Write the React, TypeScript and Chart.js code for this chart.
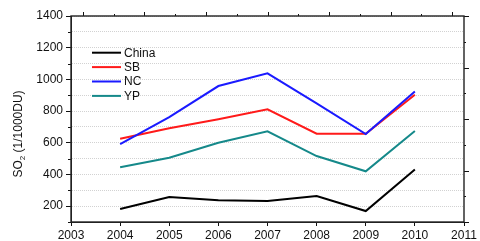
import React, { useEffect, useRef } from 'react';
import { Chart, registerables } from 'chart.js';

Chart.register(...registerables);

const years = [2004, 2005, 2006, 2007, 2008, 2009, 2010];
const chinaValues = [182, 257, 237, 232, 264, 169, 432];
const sbValues = [626, 691, 748, 811, 657, 657, 903];
const ncValues = [592, 762, 958, 1038, 848, 655, 924];
const ypValues = [445, 506, 600, 672, 516, 420, 674];
const seriesNames = ['China', 'SB', 'NC', 'YP'];
const seriesColors = ['#000000', '#ff1a1a', '#1a1aff', '#15898a'];
const xMin = 2003;
const xMax = 2011;
const yMin = 100;
const yMax = 1400;
const yLabelStep = 200;
const yMinorStep = 100;
const topTickCount = 13;
const rightTickCount = 9;

const FONT = "'Liberation Sans', Arial, sans-serif";

const extrasPlugin = {
  id: 'extras',
  afterDraw(chart: any) {
    const { ctx, chartArea, scales } = chart;
    const y = scales.y;
    const xTop = scales.xTop;
    const yRight = scales.yRight;
    ctx.save();
    ctx.strokeStyle = '#111';
    ctx.lineWidth = 1;
    // minor ticks on left axis
    for (let v = yMin; v <= yMax; v += yMinorStep) {
      if (v % yLabelStep === 0) continue;
      const py = Math.round(y.getPixelForValue(v)) + 0.5;
      ctx.beginPath();
      ctx.moveTo(chartArea.left - 3, py);
      ctx.lineTo(chartArea.left, py);
      ctx.stroke();
    }
    // top ticks (alternating major / minor)
    for (let k = 0; k < topTickCount; k++) {
      const px = Math.round(xTop.getPixelForValue(k)) + 0.5;
      const len = k % 2 === 0 ? 4 : 2;
      ctx.beginPath();
      ctx.moveTo(px, chartArea.top);
      ctx.lineTo(px, chartArea.top - len);
      ctx.stroke();
    }
    // right ticks (alternating major / minor)
    for (let k = 0; k < rightTickCount; k++) {
      const py = Math.round(yRight.getPixelForValue(k)) + 0.5;
      const len = k % 2 === 0 ? 5 : 2;
      ctx.beginPath();
      ctx.moveTo(chartArea.right, py);
      ctx.lineTo(chartArea.right + len, py);
      ctx.stroke();
    }
    // frame
    ctx.strokeStyle = '#222';
    ctx.lineWidth = 1.4;
    ctx.strokeRect(chartArea.left, chartArea.top, chartArea.right - chartArea.left, chartArea.bottom - chartArea.top);
    // legend
    const legendX0 = chartArea.left + 21;
    const legendX1 = chartArea.left + 50;
    const legendY0 = chartArea.top + 36.7;
    const legendDy = 14.4;
    ctx.font = `12px ${FONT}`;
    ctx.textBaseline = 'middle';
    ctx.textAlign = 'left';
    seriesNames.forEach((name, i) => {
      const ly = legendY0 + i * legendDy;
      ctx.strokeStyle = seriesColors[i];
      ctx.lineWidth = 2;
      ctx.beginPath();
      ctx.moveTo(legendX0, ly);
      ctx.lineTo(legendX1, ly);
      ctx.stroke();
      ctx.fillStyle = '#111';
      ctx.fillText(name, legendX1 + 3, ly + 0.5);
    });
    // y-axis title with subscript
    ctx.translate(18, 134);
    ctx.rotate(-Math.PI / 2);
    const big = `12px ${FONT}`;
    const small = `8px ${FONT}`;
    const p1 = 'SO';
    const p2 = '2';
    const p3 = ' (1/1000DU)';
    ctx.font = big;
    const w1 = ctx.measureText(p1).width;
    const w3 = ctx.measureText(p3).width;
    ctx.font = small;
    const w2 = ctx.measureText(p2).width;
    const total = w1 + w2 + w3;
    let x = -total / 2;
    ctx.fillStyle = '#111';
    ctx.textBaseline = 'alphabetic';
    ctx.font = big;
    ctx.fillText(p1, x, 4);
    x += w1;
    ctx.font = small;
    ctx.fillText(p2, x, 7);
    x += w2;
    ctx.font = big;
    ctx.fillText(p3, x, 4);
    ctx.restore();
  },
};

export default function App() {
  const ref = useRef<HTMLCanvasElement>(null);
  useEffect(() => {
    if (!ref.current) return;
    Chart.defaults.font.family = FONT;
    Chart.defaults.font.size = 12;
    Chart.defaults.color = '#111';
    const allValues = [chinaValues, sbValues, ncValues, ypValues];
    const orders = [3, 1, 0, 2];
    const chart = new Chart(ref.current, {
      type: 'line',
      data: {
        datasets: seriesNames.map((name, i) => ({
          label: name,
          data: years.map((yr, j) => ({ x: yr, y: allValues[i][j] })),
          borderColor: seriesColors[i],
          backgroundColor: seriesColors[i],
          borderWidth: 2,
          pointRadius: 0,
          tension: 0,
          fill: false,
          order: orders[i],
        })),
      },
      options: {
        responsive: false,
        animation: false,
        devicePixelRatio: 1,
        layout: { padding: 0 },
        plugins: { legend: { display: false }, tooltip: { enabled: false } },
        scales: {
          x: {
            type: 'linear',
            position: 'bottom',
            min: xMin,
            max: xMax,
            ticks: { stepSize: 1, padding: 2, callback: (v: any) => String(v), maxRotation: 0, autoSkip: false },
            grid: { drawOnChartArea: false, tickLength: 4, color: '#111', tickColor: '#111' },
            border: { display: true, color: '#222', width: 1 },
            afterFit: (s: any) => { s.height = 19; },
          },
          xTop: {
            type: 'linear',
            position: 'top',
            min: -0.39,
            max: 12.39,
            ticks: { display: false },
            afterBuildTicks: (s: any) => { s.ticks = Array.from({ length: topTickCount }, (_, k) => ({ value: k })); },
            grid: { display: false },
            border: { display: false },
            afterFit: (s: any) => { s.height = 16; },
          },
          y: {
            type: 'linear',
            position: 'left',
            min: yMin,
            max: yMax,
            ticks: {
              stepSize: yMinorStep,
              padding: 3,
              autoSkip: false,
              callback: (v: any) => (v % yLabelStep === 0 ? String(v) : ''),
            },
            grid: {
              drawOnChartArea: true,
              color: '#d2d2d2',
              lineWidth: 1,
              tickLength: 5,
              tickColor: (c: any) => (c.tick && c.tick.value % yLabelStep === 0 ? '#111' : 'rgba(0,0,0,0)'),
              tickBorderDash: [],
            },
            border: { display: true, color: '#222', width: 1, dash: [1, 1] },
            afterFit: (s: any) => { s.width = 71; },
          },
          yRight: {
            type: 'linear',
            position: 'right',
            min: 0,
            max: rightTickCount - 1,
            ticks: { display: false, stepSize: 1 },
            grid: { display: false },
            border: { display: false },
            afterFit: (s: any) => { s.width = 16; },
          },
        },
      },
      plugins: [extrasPlugin],
    } as any);
    return () => chart.destroy();
  }, []);
  return (
    <div style={{ position: 'absolute', left: 0, top: 0, width: 480, height: 241, background: '#fff' }}>
      <canvas ref={ref} width={480} height={241} />
    </div>
  );
}
